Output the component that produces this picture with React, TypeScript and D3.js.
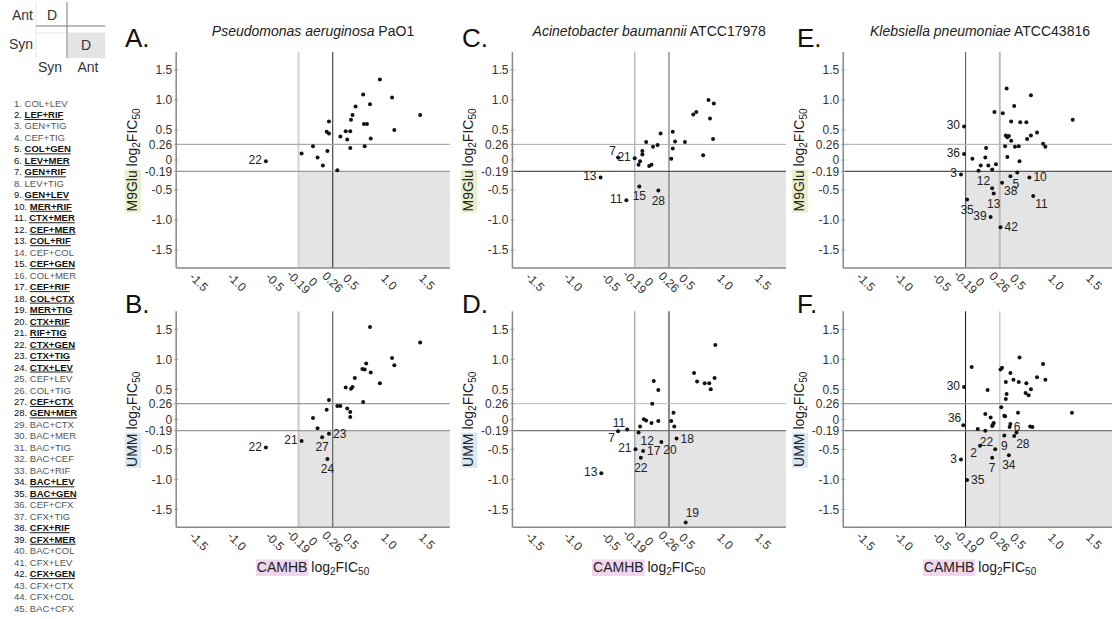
import * as d3 from "d3";

const FONT = "'Liberation Sans', Arial, Helvetica, sans-serif";

// combination list (left column)
const COMBOS = [
  "COL+LEV", "LEF+RIF", "GEN+TIG", "CEF+TIG", "COL+GEN", "LEV+MER", "GEN+RIF", "LEV+TIG",
  "GEN+LEV", "MER+RIF", "CTX+MER", "CEF+MER", "COL+RIF", "CEF+COL", "CEF+GEN", "COL+MER",
  "CEF+RIF", "COL+CTX", "MER+TIG", "CTX+RIF", "RIF+TIG", "CTX+GEN", "CTX+TIG", "CTX+LEV",
  "CEF+LEV", "COL+TIG", "CEF+CTX", "GEN+MER", "BAC+CTX", "BAC+MER", "BAC+TIG", "BAC+CEF",
  "BAC+RIF", "BAC+LEV", "BAC+GEN", "CEF+CFX", "CFX+TIG", "CFX+RIF", "CFX+MER", "BAC+COL",
  "CFX+LEV", "CFX+GEN", "CFX+CTX", "CFX+COL", "BAC+CFX",
];
const BOLD = [2, 5, 6, 7, 9, 10, 11, 12, 13, 15, 17, 18, 19, 20, 21, 22, 23, 24, 27, 28, 34, 35, 38, 39, 42];

const X_TICKS = [-1.5, -1, -0.5, -0.19, 0, 0.26, 0.5, 1, 1.5];
const X_TICK_LABELS = ["-1.5", "-1.0", "-0.5", "-0.19", "0", "0.26", "0.5", "1.0", "1.5"];
const Y_TICKS = [1.5, 1, 0.5, 0.26, 0, -0.19, -0.5, -1, -1.5];
const Y_TICK_LABELS = ["1.5", "1.0", "0.5", "0.26", "0", "-0.19", "-0.5", "-1.0", "-1.5"];
const CUT_LOW = -0.19;
const CUT_HIGH = 0.26;

const SPECIES = ["Pseudomonas aeruginosa", "Acinetobacter baumannii", "Klebsiella pneumoniae"];
const STRAINS = [" PaO1", " ATCC17978", " ATCC43816"];
const MEDIA = ["M9Glu", "UMM"];

// [CAMHB, medium, label?]
const PA_M9 = [
  [-0.62, -0.02, 22],
  [-0.15, 0.11], [0.0, 0.23], [0.06, 0.04], [0.13, -0.09], [0.19, 0.15], [0.18, 0.47], [0.21, 0.44],
  [0.21, 0.64], [0.32, -0.17], [0.36, 0.39], [0.43, 0.48], [0.45, 0.34], [0.49, 0.48], [0.49, 0.2],
  [0.5, 0.67], [0.52, 0.75], [0.56, 0.89], [0.66, 1.09], [0.67, 0.6], [0.71, 0.6], [0.75, 0.93],
  [0.76, 0.36], [0.68, 0.23], [0.88, 1.34], [1.04, 1.04], [1.07, 0.5], [1.41, 0.75],
];
const PA_UMM = [
  [-0.62, -0.47, 22], [-0.15, -0.36, 21], [0.12, -0.3, 27], [0.21, -0.24, 23], [0.19, -0.66, 24],
  [0.75, 1.54], [1.41, 1.28], [1.04, 1.02], [1.07, 0.9], [0.7, 0.93], [0.65, 0.84], [0.68, 0.83],
  [0.76, 0.78], [0.55, 0.69], [0.88, 0.6], [0.43, 0.53], [0.5, 0.51], [0.52, 0.54], [0.21, 0.32],
  [0.66, 0.29], [0.18, 0.16], [0.32, 0.22], [0.36, 0.22], [0.45, 0.18], [0.49, 0.12], [0.49, 0.04],
  [0.0, 0.02], [0.06, -0.15],
];
const AB_M9 = [
  [-0.41, 0.04, 7], [-0.64, -0.29, 13], [-0.13, -0.44, 15], [0.12, -0.51, 28], [-0.3, -0.67, 11],
  [-0.19, 0.03, 21],
  [-0.12, -0.02], [-0.14, -0.08], [-0.09, 0.09], [-0.09, 0.15], [-0.04, 0.3], [0.05, 0.22],
  [0.11, 0.25], [0.15, 0.44], [0.0, -0.1], [0.03, -0.08], [0.29, 0.02], [0.31, 0.19], [0.31, 0.47],
  [0.34, 0.31], [0.47, 0.3], [0.58, 0.76], [0.62, 0.8], [0.71, 0.08], [0.78, 1.0], [0.85, 0.94],
  [0.8, 0.69], [0.84, 0.35],
];
const AB_UMM = [
  [-0.41, -0.2, 7], [-0.29, -0.17, 11], [-0.14, -0.22, 12], [-0.63, -0.9, 13], [-0.18, -0.5, 21],
  [-0.08, -0.53, 17], [-0.11, -0.64, 22], [0.16, -0.38, 20], [0.36, -0.32, 18], [0.48, -1.72, 19],
  [0.87, 1.24], [0.59, 0.77], [0.63, 0.63], [0.73, 0.6], [0.79, 0.6], [0.86, 0.69], [0.81, 0.5],
  [0.06, 0.64], [0.12, 0.49], [0.04, 0.26], [0.32, 0.11], [0.29, -0.03], [0.33, -0.12], [0.12, -0.03],
  [0.03, -0.06], [-0.04, -0.02], [-0.07, 0.0], [-0.12, -0.12],
];
const KP_M9 = [
  [-0.21, 0.56, 30], [-0.21, 0.1, 36], [-0.25, -0.24, 3], [-0.17, -0.66, 35], [0.14, -0.95, 39],
  [0.27, -1.12, 42], [0.16, -0.47, 12], [0.18, -0.56, 13], [0.29, -0.38, 38], [0.4, -0.27, 5],
  [0.65, -0.29, 10], [0.7, -0.6, 11],
  [-0.1, 0.02], [-0.02, -0.18], [0.01, -0.09], [0.07, 0.04], [0.08, 0.2], [0.11, -0.09], [0.16, -0.16],
  [0.21, -0.07], [0.19, 0.8], [0.3, 0.78], [0.35, 1.19], [0.45, 0.9], [0.41, 0.64], [0.53, 0.63],
  [0.61, 0.63], [0.67, 1.08], [0.34, 0.41], [0.36, 0.38], [0.38, 0.4], [0.41, 0.32], [0.62, 0.35],
  [0.67, 0.41], [0.75, 0.46], [0.83, 0.27], [0.86, 0.22], [1.22, 0.67], [0.33, 0.23], [0.46, 0.22],
  [0.51, 0.23], [0.36, 0.05], [0.52, -0.02], [0.49, -0.21],
];
const KP_UMM = [
  [-0.21, 0.54, 30], [-0.22, -0.1, 36], [-0.25, -0.67, 3], [-0.17, -1.01, 35], [0.0, -0.44, 2],
  [0.2, -0.5, 22], [0.16, -0.64, 7], [0.32, -0.27, 9], [0.45, -0.28, 28], [0.38, -0.6, 34],
  [0.39, -0.13, 6],
  [-0.11, 0.87], [-0.03, -0.16], [0.07, -0.19], [0.07, 0.09], [0.1, 0.49], [0.14, 0.03], [0.16, -0.11],
  [0.18, -0.06], [0.17, -0.09], [0.28, 0.2], [0.32, 0.06], [0.33, 0.05], [0.34, 0.34], [0.35, 0.42],
  [0.34, 0.62], [0.27, 0.83], [0.29, 0.86], [0.4, 0.77], [0.44, 0.66], [0.51, 0.62], [0.52, 1.03],
  [0.61, 0.6], [0.6, 0.44], [0.64, 0.4], [0.67, 0.5], [0.75, 0.7], [0.83, 0.92], [0.86, 0.66],
  [0.5, 0.11], [0.4, -0.08], [0.48, -0.22], [0.66, -0.12], [0.69, -0.13], [1.21, 0.11],
];

// where each point label sits relative to its dot
const LABEL_SIDE = {
  A: { 22: "l" },
  B: { 22: "l", 21: "l", 27: "b", 23: "r", 24: "b" },
  C: { 7: "tl", 13: "l", 15: "b", 28: "b", 11: "l", 21: "l" },
  D: { 7: "bl", 11: "tl", 12: "br", 13: "l", 21: "l", 17: "r", 22: "b", 20: "br", 18: "r", 19: "tr" },
  E: { 30: "l", 36: "l", 3: "l", 35: "b", 39: "l", 42: "r", 12: "tl", 13: "b", 38: "br", 5: "br", 10: "r", 11: "br" },
  F: { 30: "l", 36: "tl", 3: "l", 35: "r", 2: "bl", 22: "tl", 7: "b", 9: "b", 28: "br", 34: "b", 6: "r" },
};
const SIDES = {
  l: [-4, 3, "end"], r: [4, 4, "start"], b: [0, 14, "middle"], t: [0, -5, "middle"],
  tl: [-2, -3, "end"], tr: [0, -6, "start"], bl: [-3, 11, "end"], br: [2, 12, "start"],
};

const COL_X0 = [313, 649.2, 980];
const ROW_Y0 = [160, 419.3];
const LETTER_X = [125, 462, 797];
const X_PX = 76;
const Y_PX = 60;

const PANELS = [
  { id: "A", col: 0, row: 0, data: PA_M9, lines: [["#d4d4d4", 2], ["#222", 1], ["#aaa", 1.2], ["#999", 1.2]] },
  { id: "B", col: 0, row: 1, data: PA_UMM, lines: [["#c8c8c8", 2], ["#444", 1], ["#999", 1.2], ["#999", 1.2]] },
  { id: "C", col: 1, row: 0, data: AB_M9, lines: [["#aaa", 1.2], ["#777", 1.2], ["#aaa", 1], ["#555", 1.2]] },
  { id: "D", col: 1, row: 1, data: AB_UMM, lines: [["#999", 1.2], ["#888", 2], ["#bbb", 1], ["#777", 1.2]] },
  { id: "E", col: 2, row: 0, data: KP_M9, lines: [["#666", 1.2], ["#bbb", 2], ["#bbb", 1.2], ["#555", 1.2]] },
  { id: "F", col: 2, row: 1, data: KP_UMM, lines: [["#111", 1], ["#ccc", 1.5], ["#999", 1.2], ["#777", 1.2]] },
];

const HL = { M9Glu: "#e8f0cc", UMM: "#dae7f5", CAMHB: "#f0d6ec" };

let ctx: CanvasRenderingContext2D | null = null;
function tw(s: string, size: number) {
  if (!ctx) ctx = document.createElement("canvas").getContext("2d");
  if (!ctx) return s.length * size * 0.55;
  ctx.font = `${size}px 'Liberation Sans', Arial`;
  return ctx.measureText(s).width;
}

function AxisTitle({ x, y, word, rotate }) {
  const sub = 10;
  const total = tw(word + " log", 14) + tw("2", sub) + tw("FIC", 14) + tw("50", sub);
  const start = -total / 2;
  return (
    <g transform={`translate(${x},${y}) rotate(${rotate})`}>
      <rect x={start - 1} y={-12.5} width={tw(word, 14) + 2} height={16.5} fill={HL[word]} />
      <text x={start} y={0} fontSize={14} fill="#222">
        {word} log<tspan fontSize={sub} dy={3}>2</tspan>
        <tspan dy={-3}>FIC</tspan>
        <tspan fontSize={sub} dy={3}>50</tspan>
      </text>
    </g>
  );
}

function Panel({ p }) {
  const x0 = COL_X0[p.col];
  const y0 = ROW_Y0[p.row];
  const x = d3.scaleLinear().domain([-1.8, 1.8]).range([x0 - 1.8 * X_PX, x0 + 1.8 * X_PX]);
  const y = d3.scaleLinear().domain([-1.8, 1.8]).range([y0 + 1.8 * Y_PX, y0 - 1.8 * Y_PX]);
  const [xl, xr] = x.range();
  const [yb, yt] = y.range();
  const sides = LABEL_SIDE[p.id];
  const medium = MEDIA[p.row];
  return (
    <g>
      <rect x={x(CUT_LOW)} y={y(CUT_LOW)} width={xr - x(CUT_LOW)} height={yb - y(CUT_LOW)} fill="#e4e4e4" />
      <line x1={x(CUT_LOW)} x2={x(CUT_LOW)} y1={yt} y2={yb} stroke={p.lines[0][0]} strokeWidth={p.lines[0][1]} />
      <line x1={x(CUT_HIGH)} x2={x(CUT_HIGH)} y1={yt} y2={yb} stroke={p.lines[1][0]} strokeWidth={p.lines[1][1]} />
      <line x1={xl} x2={xr} y1={y(CUT_HIGH)} y2={y(CUT_HIGH)} stroke={p.lines[2][0]} strokeWidth={p.lines[2][1]} />
      <line x1={xl} x2={xr} y1={y(CUT_LOW)} y2={y(CUT_LOW)} stroke={p.lines[3][0]} strokeWidth={p.lines[3][1]} />
      <line x1={xl} x2={xl} y1={yt} y2={yb} stroke="#888" strokeWidth={1.5} />
      <line x1={xl} x2={xr} y1={yb} y2={yb} stroke="#888" strokeWidth={1.5} />
      {Y_TICKS.map((t, i) => (
        <g key={t}>
          <line x1={xl - 2} x2={xl + 2} y1={y(t)} y2={y(t)} stroke="#999" />
          <text x={xl - 4} y={y(t)} dy="0.35em" textAnchor="end" fontSize={12} fill="#333">
            {Y_TICK_LABELS[i]}
          </text>
        </g>
      ))}
      {X_TICKS.map((t, i) => (
        <text
          key={t}
          transform={`translate(${x(t)},${yb + 14}) rotate(45)`}
          dy="0.35em"
          textAnchor="middle"
          fontSize={12}
          fill="#333"
        >
          {X_TICK_LABELS[i]}
        </text>
      ))}
      {p.data.map((d, i) => (
        <circle key={i} cx={x(d[0])} cy={y(d[1])} r={2} fill="#111" />
      ))}
      {p.data
        .filter((d) => d.length > 2)
        .map((d) => {
          const s = SIDES[sides[d[2]] || "r"];
          return (
            <text key={"l" + d[2]} x={x(d[0]) + s[0]} y={y(d[1]) + s[1]} textAnchor={s[2]} fontSize={12} fill="#222">
              {d[2]}
            </text>
          );
        })}
      <text x={LETTER_X[p.col]} y={p.row === 0 ? 47 : 313} fontSize={26} fill="#111">
        {p.id}.
      </text>
      {p.row === 0 && (
        <text x={x0} y={36} textAnchor="middle" fontSize={14} fill="#222">
          <tspan fontStyle="italic">{SPECIES[p.col]}</tspan>
          {STRAINS[p.col]}
        </text>
      )}
      <AxisTitle x={xl - 39} y={y0} word={medium} rotate={-90} />
      {p.row === 1 && <AxisTitle x={x0} y={572} word="CAMHB" rotate={0} />}
    </g>
  );
}

function Key() {
  return (
    <g fontSize={14} fill="#333">
      <rect x={67} y={33} width={38} height={25} fill="#e4e4e4" />
      <line x1={36} x2={36} y1={2} y2={58} stroke="#e6e6e6" />
      <line x1={36} x2={105} y1={33} y2={33} stroke="#e6e6e6" />
      <line x1={67} x2={67} y1={2} y2={58} stroke="#bbb" strokeWidth={2} />
      <line x1={36} x2={105} y1={26} y2={26} stroke="#777" />
      <text x={33} y={20} textAnchor="end">Ant</text>
      <text x={52} y={20} textAnchor="middle">D</text>
      <text x={33} y={49} textAnchor="end">Syn</text>
      <text x={86} y={50} textAnchor="middle">D</text>
      <text x={50} y={72} textAnchor="middle">Syn</text>
      <text x={88} y={72} textAnchor="middle">Ant</text>
    </g>
  );
}

function ComboList() {
  return (
    <g fontSize={9.5}>
      {COMBOS.map((c, i) => {
        const bold = BOLD.includes(i + 1);
        return (
          <text key={c} x={14} y={106.5 + i * 11.48} fill={bold ? "#111" : "#555"}>
            {i + 1}.{" "}
            <tspan
              fontWeight={bold ? "bold" : "normal"}
              style={bold ? { textDecoration: "underline" } : undefined}
            >
              {c}
            </tspan>
          </text>
        );
      })}
    </g>
  );
}

export default function App() {
  return (
    <svg
      width={1112}
      height={619}
      style={{ position: "absolute", left: 0, top: 0, background: "#fff" }}
      fontFamily={FONT}
    >
      <rect width={1112} height={619} fill="#fff" />
      <Key />
      <ComboList />
      {PANELS.map((p) => (
        <Panel key={p.id} p={p} />
      ))}
    </svg>
  );
}
